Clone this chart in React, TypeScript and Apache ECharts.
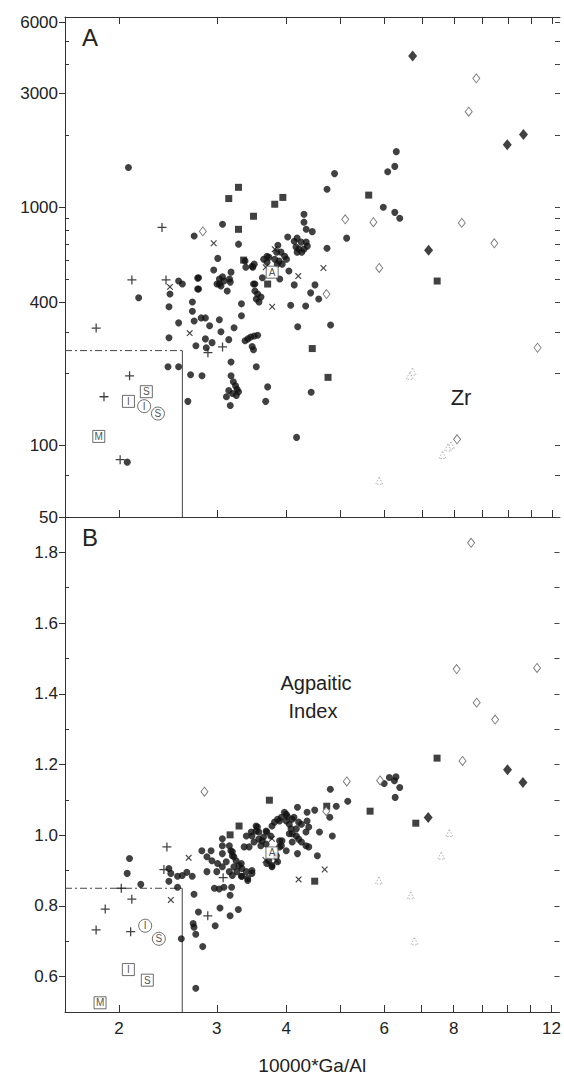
import React, { useEffect, useRef } from "react";
import * as echarts from "echarts";

// ---------- Axis ticks / labels ----------
const xTickValues = [2, 3, 4, 5, 6, 7, 8, 9, 10, 11, 12];
const xLabelValues = [2, 3, 4, 6, 8, 12];
const xRange = [1.6, 12.4];

const zrRange = [50, 6300];
const zrLabelValues = [50, 100, 400, 1000, 3000, 6000];
const zrMinorValues = [75, 200, 300, 500, 600, 700, 800, 900, 2000, 4000, 5000];

const aiRange = [0.5, 1.9];
const aiLabelValues = [0.6, 0.8, 1.0, 1.2, 1.4, 1.6, 1.8];
const aiMinorValues = [0.7, 0.9, 1.1, 1.3, 1.5, 1.7];

// discrimination box limits
const boxGa = 2.6;
const boxZr = 250;
const boxAi = 0.85;

// ---------- Panel A : Zr (ppm) vs 10000*Ga/Al ----------
const aCircles = [
  [2.08, 1470], [3.07, 848], [2.73, 757], [3.28, 700], [4.02, 750], [6.3, 1713], [6.26, 1485], [6.08, 1410],
  [4.88, 1385], [4.73, 1190], [5.97, 1000], [6.26, 952], [6.39, 900], [5.13, 742], [4.73, 673], [4.3, 935],
  [4.3, 866], [4.34, 808], [4.45, 790], [4.13, 720], [4.18, 742], [4.25, 714], [4.34, 714], [4.16, 681],
  [4.21, 667], [4.3, 667], [4.36, 687], [4.26, 648], [4.18, 648], [3.86, 693], [3.91, 648], [3.84, 648],
  [3.97, 623], [4.0, 605], [3.88, 594], [3.81, 605], [3.72, 617], [3.69, 588], [3.93, 577], [3.85, 577],
  [3.38, 560], [3.48, 560], [3.5, 577], [3.64, 605], [3.69, 623], [3.62, 506], [3.51, 476], [4.04, 540],
  [3.89, 500], [4.13, 472], [4.5, 472], [4.42, 437], [4.57, 412], [4.07, 388], [4.33, 385], [4.19, 315],
  [4.8, 320], [4.43, 167], [4.17, 108], [3.51, 445], [3.55, 432], [3.53, 412], [3.6, 420], [3.57, 400],
  [3.32, 393], [3.32, 350], [2.56, 490], [2.6, 476], [2.77, 504], [3.01, 610], [2.96, 545], [2.77, 454],
  [2.47, 432], [2.17, 417], [2.46, 382], [2.56, 327], [2.46, 283], [2.71, 400], [2.71, 366], [2.73, 333],
  [2.81, 343], [2.86, 343], [2.91, 318], [3.03, 337], [3.05, 300], [2.86, 280], [2.94, 270], [2.75, 262],
  [2.87, 257], [3.15, 278], [3.22, 312], [3.13, 445], [3.03, 476], [3.17, 485], [3.07, 510], [3.18, 534],
  [3.37, 595], [3.47, 565], [3.49, 476], [3.37, 275], [3.41, 280], [3.45, 285], [3.5, 288], [3.55, 290],
  [3.47, 260], [3.49, 252], [3.18, 224], [3.53, 214], [3.18, 196], [3.21, 185], [3.24, 178], [3.26, 172],
  [3.28, 168], [3.25, 162], [3.2, 165], [3.12, 160], [3.15, 170], [3.7, 176], [3.67, 153], [3.17, 147],
  [2.82, 196], [2.69, 198], [2.66, 153], [2.45, 214], [2.56, 214], [2.07, 85], [3.03, 500], [3.09, 490],
  [3.0, 476], [3.05, 467], [3.16, 500], [2.78, 506], [2.78, 454],
];
const aSquares = [
  [3.28, 1213], [3.15, 1088], [3.81, 1030], [3.49, 917], [3.28, 808], [3.94, 1100], [5.62, 1125],
  [7.46, 490], [4.45, 255], [4.75, 193], [3.35, 600], [3.7, 476],
];
const aDiamondsFilled = [[6.74, 4325], [9.97, 1833], [10.66, 2020], [7.2, 660]];
const aDiamondsOpen = [
  [2.83, 792], [5.1, 890], [5.73, 866], [8.26, 860], [9.45, 706], [5.87, 556], [4.72, 432], [11.3, 257],
  [8.1, 106], [8.77, 3480], [8.5, 2520],
];
const aTriangles = [[6.74, 204], [6.66, 196], [7.9, 100], [7.8, 98], [7.63, 91], [5.87, 71]];
const aPlus = [[2.39, 823], [2.11, 495], [2.43, 495], [1.82, 311], [3.07, 259], [2.89, 245], [2.09, 196], [1.88, 160], [2.01, 87]];
const aCross = [[2.96, 706], [2.47, 463], [2.68, 296], [3.77, 382], [4.66, 556], [4.2, 514], [3.81, 667], [3.67, 560]];
const aRefBoxes: [string, number, number][] = [["M", 1.84, 109], ["I", 2.08, 153], ["S", 2.24, 168], ["A", 3.77, 534]];
const aRefCircles: [string, number, number][] = [["I", 2.22, 146], ["S", 2.35, 136]];

// ---------- Panel B : Agpaitic index vs 10000*Ga/Al ----------
const bCircles = [
  [3.07, 0.99], [2.09, 0.934], [2.07, 0.892], [2.46, 0.906], [2.48, 0.892], [2.55, 0.884], [2.6, 0.886],
  [2.65, 0.895], [2.71, 0.884], [2.46, 0.87], [2.19, 0.861], [2.55, 0.853], [2.73, 0.833], [2.59, 0.707],
  [2.75, 0.567], [2.83, 0.685], [2.72, 0.75], [2.73, 0.74], [2.75, 0.72], [2.78, 0.783], [2.98, 0.744],
  [3.04, 0.794], [3.17, 0.772], [3.28, 0.79], [2.97, 0.85], [3.03, 0.848], [3.09, 0.853], [3.19, 0.853],
  [3.17, 0.83], [2.82, 0.956], [2.93, 0.956], [2.88, 0.939], [2.94, 0.928], [3.01, 0.92], [3.07, 0.911],
  [3.0, 0.897], [2.88, 0.897], [3.18, 0.956], [3.2, 0.942], [3.25, 0.928], [3.32, 0.92], [3.12, 0.925],
  [3.16, 0.897], [3.26, 0.897], [3.33, 0.884], [3.41, 0.878], [3.47, 0.892], [3.22, 0.911], [3.07, 0.948],
  [3.39, 0.998], [3.46, 1.009], [3.53, 1.026], [3.57, 1.009], [3.64, 0.995], [3.5, 0.981], [3.43, 0.967],
  [3.36, 0.967], [3.6, 0.97], [3.68, 1.012], [3.77, 1.026], [3.89, 1.04], [4.0, 1.059], [4.1, 1.045],
  [4.17, 1.018], [4.05, 1.004], [3.93, 0.984], [3.89, 0.967], [4.1, 0.981], [3.69, 0.92], [3.77, 0.911],
  [3.72, 0.928], [3.07, 0.97], [3.16, 0.97], [3.2, 0.953], [3.22, 0.939], [3.29, 0.914], [3.33, 0.906],
  [3.39, 0.897], [3.47, 0.9], [3.2, 0.886], [3.32, 0.884], [3.41, 0.872], [3.47, 0.998], [3.53, 1.012],
  [3.55, 1.023], [3.57, 0.989], [3.62, 0.984], [3.68, 0.975], [3.69, 1.009], [3.75, 0.998], [3.81, 1.037],
  [3.86, 1.045], [3.92, 1.051], [3.97, 1.065], [4.0, 1.04], [4.05, 1.031], [4.08, 1.018], [4.1, 1.004],
  [4.17, 0.998], [4.21, 0.989], [4.26, 0.981], [4.34, 0.97], [4.39, 0.967], [3.89, 0.984], [3.92, 0.97],
  [4.0, 0.956], [3.84, 0.942], [3.77, 0.914], [3.86, 0.925], [4.02, 1.053], [4.13, 1.051], [4.21, 1.037],
  [4.26, 1.031], [4.36, 1.04], [4.39, 1.023], [4.34, 1.009], [4.36, 1.065], [6.13, 1.163], [6.3, 1.165],
  [6.26, 1.154], [6.0, 1.146], [6.4, 1.135], [6.28, 1.107], [4.8, 1.13], [5.16, 1.096], [4.92, 1.082],
  [4.5, 1.071], [4.19, 1.079], [4.79, 1.051], [4.59, 1.009], [4.84, 0.998], [4.19, 0.948], [4.55, 0.942],
];
const bSquares = [[3.73, 1.099], [3.29, 1.026], [3.17, 1.001], [4.73, 1.082], [5.66, 1.068], [6.84, 1.034], [7.47, 1.218], [4.5, 0.87]];
const bDiamondsFilled = [[7.2, 1.05], [10.0, 1.185], [10.66, 1.149]];
const bDiamondsOpen = [
  [2.85, 1.123], [5.14, 1.152], [5.9, 1.155], [4.72, 1.068], [8.3, 1.21], [8.6, 1.827], [8.1, 1.47],
  [11.3, 1.473], [8.8, 1.375], [9.5, 1.327],
];
const bTriangles = [[5.87, 0.872], [6.7, 0.83], [6.8, 0.7], [7.6, 0.942], [7.86, 1.006]];
const bPlus = [[2.44, 0.967], [2.41, 0.903], [2.02, 0.85], [2.11, 0.819], [1.89, 0.791], [1.82, 0.732], [2.1, 0.727], [2.89, 0.772], [3.08, 0.88]];
const bCross = [[2.67, 0.936], [2.48, 0.817], [3.77, 0.99], [3.67, 0.93], [3.84, 0.928], [4.21, 0.875], [4.69, 0.903]];
const bRefBoxes: [string, number, number][] = [["M", 1.85, 0.526], ["I", 2.08, 0.62], ["S", 2.25, 0.59], ["A", 3.77, 0.95]];
const bRefCircles: [string, number, number][] = [["I", 2.23, 0.744], ["S", 2.36, 0.707]];

// ---------- helpers ----------
const L = (v: number) => Math.log10(v);
const FONT = "Liberation Sans";
const INK = "#111";
const PLUS_PATH = "path://M4.3,0H5.7V4.3H10V5.7H5.7V10H4.3V5.7H0V4.3H4.3Z";

const toA = (pts: number[][]) => pts.map(([g, z]) => [L(g), L(z)]);
const toB = (pts: number[][]) => pts.map(([g, a]) => [L(g), a]);

const styles: Record<string, any> = {
  circle: { symbol: "circle", symbolSize: 7, itemStyle: { color: INK } },
  square: { symbol: "rect", symbolSize: 7, itemStyle: { color: INK } },
  dfill: { symbol: "diamond", symbolSize: [9, 11], itemStyle: { color: INK } },
  dopen: { symbol: "diamond", symbolSize: [7, 9], itemStyle: { color: "#fff", borderColor: "#555", borderWidth: 0.9 } },
  tri: { symbol: "triangle", symbolSize: 7, itemStyle: { color: "#fff", borderColor: "#888", borderWidth: 0.8, borderType: [1.5, 1.5] } },
  plus: { symbol: PLUS_PATH, symbolSize: 9, itemStyle: { color: INK } },
  cross: { symbol: PLUS_PATH, symbolSize: 8, symbolRotate: 45, itemStyle: { color: INK } },
};

function scatter(name: string, kind: string, data: number[][], panel: 0 | 1) {
  return {
    type: "scatter",
    name,
    xAxisIndex: panel === 0 ? 0 : 2,
    yAxisIndex: panel === 0 ? 0 : 3,
    data,
    silent: true,
    z: 3,
    ...styles[kind],
  };
}

function refSeries(name: string, shape: "rect" | "circle", items: [string, number, number][], panel: 0 | 1) {
  return {
    type: "scatter",
    name,
    color: "#333",
    xAxisIndex: panel === 0 ? 0 : 2,
    yAxisIndex: panel === 0 ? 0 : 3,
    symbol: shape,
    symbolSize: shape === "rect" ? 12 : 13,
    z: 5,
    silent: true,
    itemStyle: { color: "#fff", borderColor: "#333", borderWidth: 0.9 },
    label: {
      show: true,
      position: "inside",
      formatter: "{b}",
      fontSize: 10,
      color: "#222",
      fontFamily: FONT,
      textBorderWidth: 0,
      textBorderColor: "transparent",
    },
    data: items.map(([n, g, v]) => ({ name: n, value: [L(g), panel === 0 ? L(v) : v] })),
  };
}

function lineSeries(data: number[][], panel: 0 | 1, dashed: boolean) {
  return {
    type: "line",
    xAxisIndex: panel === 0 ? 0 : 2,
    yAxisIndex: panel === 0 ? 0 : 3,
    data,
    symbol: "none",
    silent: true,
    z: 2,
    lineStyle: { color: "#444", width: 1, type: dashed ? [7, 3, 2, 3] : "solid" },
  };
}

const xMin = L(xRange[0]);
const xMax = L(xRange[1]);
const xTicks = xTickValues.map(L);

function xAxis(grid: number, position: "top" | "bottom", labels: boolean, ticks: boolean) {
  return {
    type: "value",
    gridIndex: grid,
    position,
    min: xMin,
    max: xMax,
    splitLine: { show: false },
    axisLine: { show: true, lineStyle: { color: "#333", width: 1 } },
    axisTick: { show: ticks, inside: true, length: 7, customValues: xTicks, lineStyle: { color: "#333" } },
    axisLabel: {
      show: labels,
      customValues: xLabelValues.map(L),
      formatter: (v: number) => String(Math.round(Math.pow(10, v))),
      fontSize: 17,
      fontFamily: FONT,
      color: "#222",
      margin: 8,
    },
    ...(labels
      ? {
          name: "10000*Ga/Al",
          nameLocation: "middle",
          nameGap: 44,
          nameTextStyle: { fontSize: 19, fontFamily: FONT, color: "#222" },
        }
      : {}),
  };
}

function yAxes(grid: number, min: number, max: number, majors: number[], minors: number[], fmt: (v: number) => string) {
  const all = [...majors, ...minors];
  return [
    {
      type: "value",
      gridIndex: grid,
      position: "left",
      min,
      max,
      splitLine: { show: false },
      axisLine: { show: true, lineStyle: { color: "#333", width: 1 } },
      axisTick: { show: true, inside: false, length: 6, customValues: majors, lineStyle: { color: "#333" } },
      axisLabel: { show: true, customValues: majors, formatter: fmt, fontSize: 17, fontFamily: FONT, color: "#222", margin: 7 },
    },
    {
      type: "value",
      gridIndex: grid,
      position: "left",
      min,
      max,
      splitLine: { show: false },
      axisLine: { show: false },
      axisTick: { show: true, inside: true, length: 4, customValues: minors, lineStyle: { color: "#333" } },
      axisLabel: { show: false },
    },
    {
      type: "value",
      gridIndex: grid,
      position: "right",
      min,
      max,
      splitLine: { show: false },
      axisLine: { show: false },
      axisTick: { show: true, inside: true, length: 5, customValues: all, lineStyle: { color: "#444" } },
      axisLabel: { show: false },
    },
  ];
}

const textStyle = (text: string, size: number) => ({
  text,
  fontSize: size,
  fontFamily: FONT,
  fill: "#222",
  align: "center",
  verticalAlign: "middle",
  textAlign: "center",
  textVerticalAlign: "middle",
});

const option: any = {
  animation: false,
  backgroundColor: "#fff",
  color: ["#111"],
  grid: [
    { left: 65, top: 17, width: 495, height: 500 },
    { left: 65, top: 517, width: 495, height: 506 },
  ],
  xAxis: [
    xAxis(0, "bottom", false, true),
    xAxis(0, "top", false, true),
    xAxis(1, "bottom", true, true),
    xAxis(1, "top", false, false),
  ],
  yAxis: [
    ...yAxes(0, L(zrRange[0]), L(zrRange[1]), zrLabelValues.map(L), zrMinorValues.map(L), (v) =>
      String(Math.round(Math.pow(10, v)))
    ),
    ...yAxes(1, aiRange[0], aiRange[1], aiLabelValues, aiMinorValues, (v) => v.toFixed(1)),
  ],
  series: [
    lineSeries([[xMin, L(boxZr)], [L(boxGa), L(boxZr)]], 0, true),
    lineSeries([[L(boxGa), L(boxZr)], [L(boxGa), L(zrRange[0])]], 0, false),
    lineSeries([[xMin, boxAi], [L(boxGa), boxAi]], 1, true),
    lineSeries([[L(boxGa), boxAi], [L(boxGa), aiRange[0]]], 1, false),

    scatter("A circles", "circle", toA(aCircles), 0),
    scatter("A squares", "square", toA(aSquares), 0),
    scatter("A filled diamonds", "dfill", toA(aDiamondsFilled), 0),
    scatter("A open diamonds", "dopen", toA(aDiamondsOpen), 0),
    scatter("A triangles", "tri", toA(aTriangles), 0),
    scatter("A plus", "plus", toA(aPlus), 0),
    scatter("A cross", "cross", toA(aCross), 0),
    refSeries("A ref boxes", "rect", aRefBoxes, 0),
    refSeries("A ref circles", "circle", aRefCircles, 0),

    scatter("B circles", "circle", toB(bCircles), 1),
    scatter("B squares", "square", toB(bSquares), 1),
    scatter("B filled diamonds", "dfill", toB(bDiamondsFilled), 1),
    scatter("B open diamonds", "dopen", toB(bDiamondsOpen), 1),
    scatter("B triangles", "tri", toB(bTriangles), 1),
    scatter("B plus", "plus", toB(bPlus), 1),
    scatter("B cross", "cross", toB(bCross), 1),
    refSeries("B ref boxes", "rect", bRefBoxes, 1),
    refSeries("B ref circles", "circle", bRefCircles, 1),
  ],
  graphic: [
    { type: "text", x: 90, y: 37, style: textStyle("A", 24) },
    { type: "text", x: 90, y: 537, style: textStyle("B", 24) },
    { type: "text", x: 461, y: 397, style: textStyle("Zr", 22) },
    { type: "text", x: 316, y: 683, style: textStyle("Agpaitic", 20) },
    { type: "text", x: 313, y: 711, style: textStyle("Index", 20) },
  ],
};

export default function App() {
  const ref = useRef<HTMLDivElement>(null);
  useEffect(() => {
    if (!ref.current) return;
    const chart = echarts.init(ref.current, null, { renderer: "svg" });
    chart.setOption(option);
    return () => chart.dispose();
  }, []);
  return (
    <div
      ref={ref}
      style={{ position: "fixed", left: 0, top: 0, width: 564, height: 1076, background: "#fff" }}
    />
  );
}
